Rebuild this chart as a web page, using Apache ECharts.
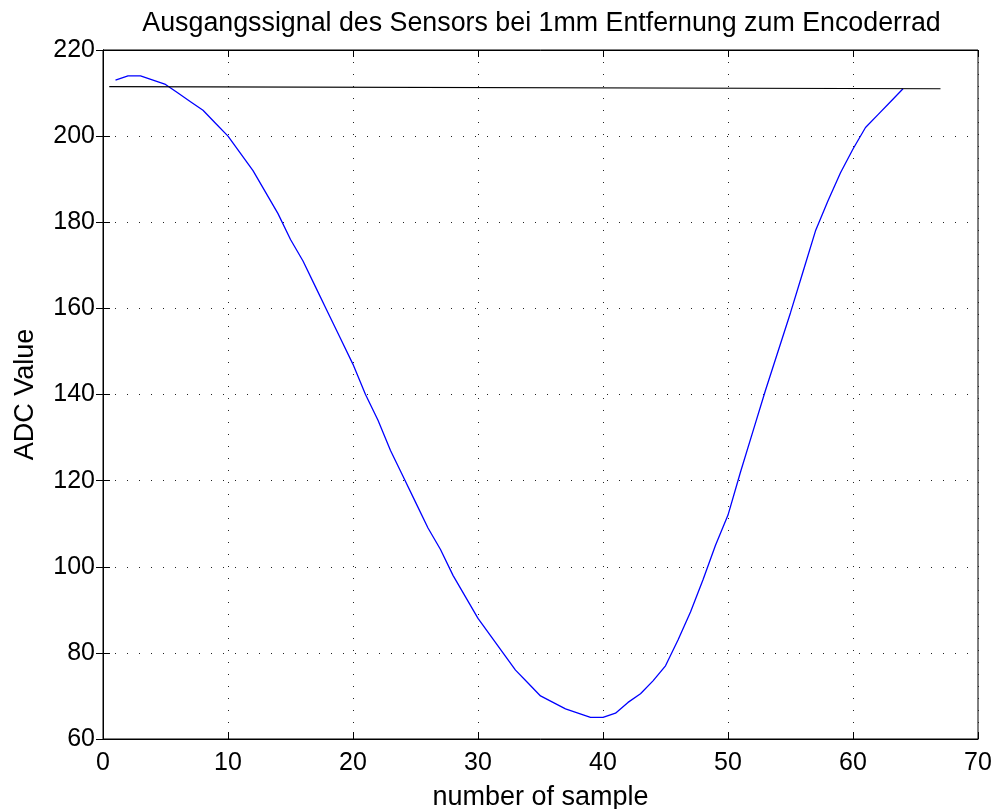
<!DOCTYPE html>
<html>
<head>
<meta charset="utf-8">
<script src="https://cdn.jsdelivr.net/npm/echarts@6/dist/echarts.min.js"></script>
<style>
  html, body { margin: 0; padding: 0; background: #fff; }
  #chart { width: 996px; height: 809px; }
</style>
</head>
<body>
<div id="chart"></div>
<script>
// Sensor output over one encoder tooth: ADC reading per sample
const sampleIndex = [
  1, 2, 3, 4, 5, 6, 7, 8, 9, 10,
  11, 12, 13, 14, 15, 16, 17, 18, 19, 20,
  21, 22, 23, 24, 25, 26, 27, 28, 29, 30,
  31, 32, 33, 34, 35, 36, 37, 38, 39, 40,
  41, 42, 43, 44, 45, 46, 47, 48, 49, 50,
  51, 52, 53, 54, 55, 56, 57, 58, 59, 60,
  61, 62, 63, 64
];
const adcValue = [
  213, 214, 214, 213, 212, 210, 208, 206, 203, 200,
  196, 192, 187, 182, 176, 171, 165, 159, 153, 147,
  140, 134, 127, 121, 115, 109, 104, 98, 93, 88,
  84, 80, 76, 73, 70, 68.5, 67, 66, 65, 65,
  66, 68.5, 70.5, 73.5, 77, 83, 89.5, 97, 105, 112,
  122, 131.5, 141, 150, 159, 168.5, 178, 185, 191.5, 197,
  202, 205, 208, 211
];
// Reference level line (start / end)
const levelX = [0.5, 67];
const levelY = [211.5, 211.0];

const xTicks = { min: 0, max: 70, step: 10 };
const yTicks = { min: 60, max: 220, step: 20 };

const FONT = '"Liberation Sans", Arial, Helvetica, sans-serif';

const signalData = sampleIndex.map((s, i) => [s, adcValue[i]]);
const levelData = levelX.map((x, i) => [x, levelY[i]]);

const PLOT = { left: 103, right: 18, top: 50, bottom: 70 };
const plotCenterX = PLOT.left + (996 - PLOT.left - PLOT.right) / 2;

const gridLine = {
  show: true,
  lineStyle: { color: '#222', width: 1, type: [1, 11] }
};

const chart = echarts.init(document.getElementById('chart'), null, { renderer: 'canvas' });
chart.setOption({
  animation: false,
  backgroundColor: '#fff',
  title: {
    text: 'Ausgangssignal des Sensors bei 1mm Entfernung zum Encoderrad',
    left: plotCenterX - 4,
    textAlign: 'center',
    top: 5,
    textStyle: { fontFamily: FONT, fontSize: 26.8, fontWeight: 'normal', color: '#000' }
  },
  grid: {
    left: PLOT.left, right: PLOT.right, top: PLOT.top, bottom: PLOT.bottom,
    show: true, borderColor: '#000', borderWidth: 1,
    containLabel: false, outerBoundsMode: 'none'
  },
  xAxis: [{
    type: 'value',
    min: xTicks.min, max: xTicks.max, interval: xTicks.step,
    name: 'number of sample',
    nameLocation: 'middle',
    nameGap: 45,
    nameTextStyle: { fontFamily: FONT, fontSize: 27, color: '#000' },
    axisLine: { show: true, lineStyle: { color: '#000', width: 1 } },
    axisTick: { show: true, inside: true, length: 7, lineStyle: { color: '#000' } },
    axisLabel: { fontFamily: FONT, fontSize: 25, color: '#000', margin: 12 },
    splitLine: gridLine
  }, {
    type: 'value', position: 'top',
    min: xTicks.min, max: xTicks.max, interval: xTicks.step,
    axisLine: { show: true, lineStyle: { color: '#000', width: 1 } },
    axisTick: { show: true, inside: true, length: 7, lineStyle: { color: '#000' } },
    axisLabel: { show: false },
    splitLine: { show: false }
  }],
  yAxis: [{
    type: 'value',
    min: yTicks.min, max: yTicks.max, interval: yTicks.step,
    name: 'ADC Value',
    nameLocation: 'middle',
    nameGap: 64,
    nameTextStyle: { fontFamily: FONT, fontSize: 27, color: '#000' },
    axisLine: { show: true, lineStyle: { color: '#000', width: 1 } },
    axisTick: { show: true, inside: true, length: 7, lineStyle: { color: '#000' } },
    axisLabel: { fontFamily: FONT, fontSize: 25, color: '#000', margin: 8 },
    splitLine: gridLine
  }, {
    type: 'value', position: 'right',
    min: yTicks.min, max: yTicks.max, interval: yTicks.step,
    axisLine: { show: true, lineStyle: { color: '#000', width: 1 } },
    axisTick: { show: true, inside: true, length: 7, lineStyle: { color: '#000' } },
    axisLabel: { show: false },
    splitLine: { show: false }
  }],
  series: [{
    name: 'ADC',
    type: 'line',
    data: signalData,
    showSymbol: false,
    lineStyle: { color: '#0000ff', width: 1.3 },
    z: 3
  }, {
    name: 'Level',
    type: 'line',
    data: levelData,
    showSymbol: false,
    lineStyle: { color: '#000', width: 1.2 },
    z: 4
  }]
});
</script>
</body>
</html>
